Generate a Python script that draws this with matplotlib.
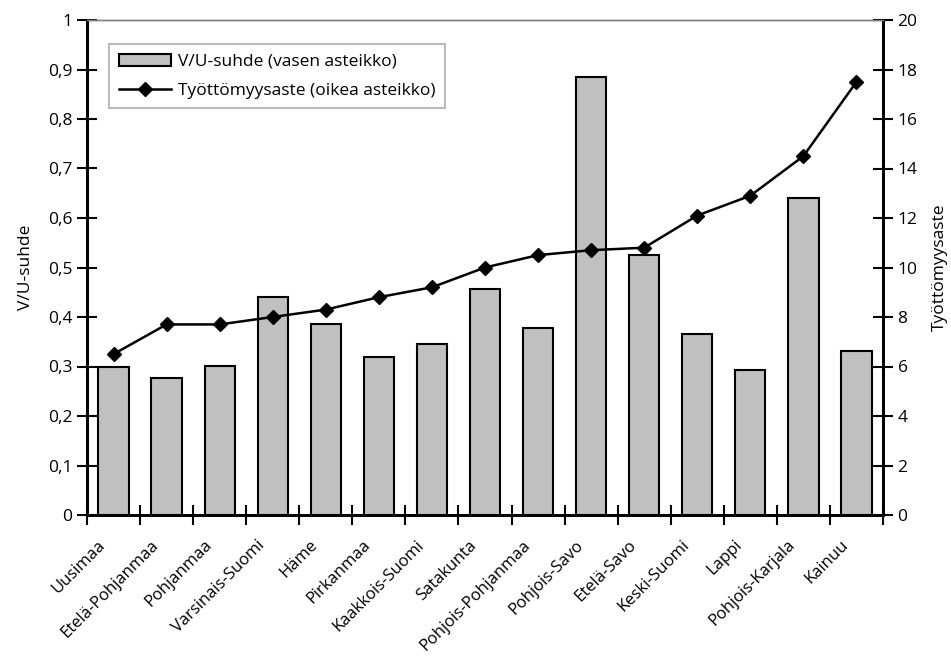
import matplotlib
matplotlib.use("Agg")
import matplotlib.pyplot as plt
import numpy as np
from matplotlib.ticker import FixedLocator, FuncFormatter
from matplotlib.transforms import ScaledTranslation

regions = ["Uusimaa", "Etelä-Pohjanmaa", "Pohjanmaa", "Varsinais-Suomi", "Häme",
           "Pirkanmaa", "Kaakkois-Suomi", "Satakunta", "Pohjois-Pohjanmaa",
           "Pohjois-Savo", "Etelä-Savo", "Keski-Suomi", "Lappi", "Pohjois-Karjala", "Kainuu"]
vu_ratio = [0.299, 0.277, 0.302, 0.440, 0.386, 0.319, 0.345, 0.457, 0.378,
            0.885, 0.525, 0.366, 0.293, 0.640, 0.331]
unemployment = [6.5, 7.7, 7.7, 8.0, 8.3, 8.8, 9.2, 10.0, 10.5, 10.7, 10.8, 12.1, 12.9, 14.5, 17.5]

plt.rcParams['font.family'] = ['Open Sans', 'DejaVu Sans']
fs = 12.5

fig = plt.figure(figsize=(9.51, 6.61), dpi=100)
ax = fig.add_axes([87/951, 1-515/661, (883-87)/951, (515-20)/661])
ax2 = ax.twinx()
ax.set_zorder(ax2.get_zorder() - 1)
ax.patch.set_visible(True)
ax2.patch.set_visible(False)

x = np.arange(len(regions))
bars = ax.bar(x, vu_ratio, width=0.57, color='#c0c0c0', edgecolor='black', linewidth=1.5,
              label='V/U-suhde (vasen asteikko)', zorder=2)
line, = ax2.plot(x, unemployment, color='black', linewidth=1.8, marker='D', markersize=7,
                 label='Työttömyysaste (oikea asteikko)')

ax.set_xlim(-0.5, len(regions) - 0.5)
ax.set_ylim(0, 1)
ax2.set_ylim(0, 20)

comma = FuncFormatter(lambda v, p: (f"{v:.1f}".replace('.', ',') if v not in (0, 1) else f"{int(v)}"))
ax.yaxis.set_major_locator(FixedLocator(np.arange(0, 1.01, 0.1)))
ax.yaxis.set_major_formatter(comma)
ax2.yaxis.set_major_locator(FixedLocator(np.arange(0, 21, 2)))

ax.set_xticks(x)
ax.set_xticklabels(regions, rotation=45, ha='right', rotation_mode='anchor', fontsize=12)
ax.tick_params(axis='x', which='major', length=0, pad=16)
shift = ScaledTranslation(-16/100, 0, fig.dpi_scale_trans)
for lbl in ax.get_xticklabels():
    lbl.set_transform(lbl.get_transform() + shift)
ax.set_xticks(np.arange(-0.5, len(regions) + 0.5, 1), minor=True)
ax.tick_params(axis='x', which='minor', length=14, width=1.5, direction='inout', color='black')

ax.tick_params(axis='y', which='major', length=15, width=1.5, direction='inout', labelsize=fs, pad=3)
ax2.tick_params(axis='y', which='major', length=15, width=1.5, direction='inout', labelsize=fs, pad=3)

for a in (ax, ax2):
    a.spines['left'].set_linewidth(2)
    a.spines['right'].set_linewidth(2)
    a.spines['bottom'].set_linewidth(2)
    a.spines['top'].set_linewidth(1)
    a.spines['top'].set_color('#808080')

ax.set_ylabel('V/U-suhde', fontsize=fs, labelpad=10)
ax2.set_ylabel('Työttömyysaste', fontsize=fs, rotation=90, labelpad=10)

leg = ax2.legend([bars, line], ['V/U-suhde (vasen asteikko)', 'Työttömyysaste (oikea asteikko)'],
                 loc='upper left', bbox_to_anchor=((109-87)/796, (515-44)/495), borderaxespad=0,
                 fontsize=fs, frameon=True, fancybox=False, edgecolor='#bbbbbb', framealpha=1,
                 handlelength=3.0, borderpad=0.55, labelspacing=0.75, handletextpad=0.4)
leg.get_frame().set_linewidth(1.5)

fig.savefig('out.png', dpi=100)
